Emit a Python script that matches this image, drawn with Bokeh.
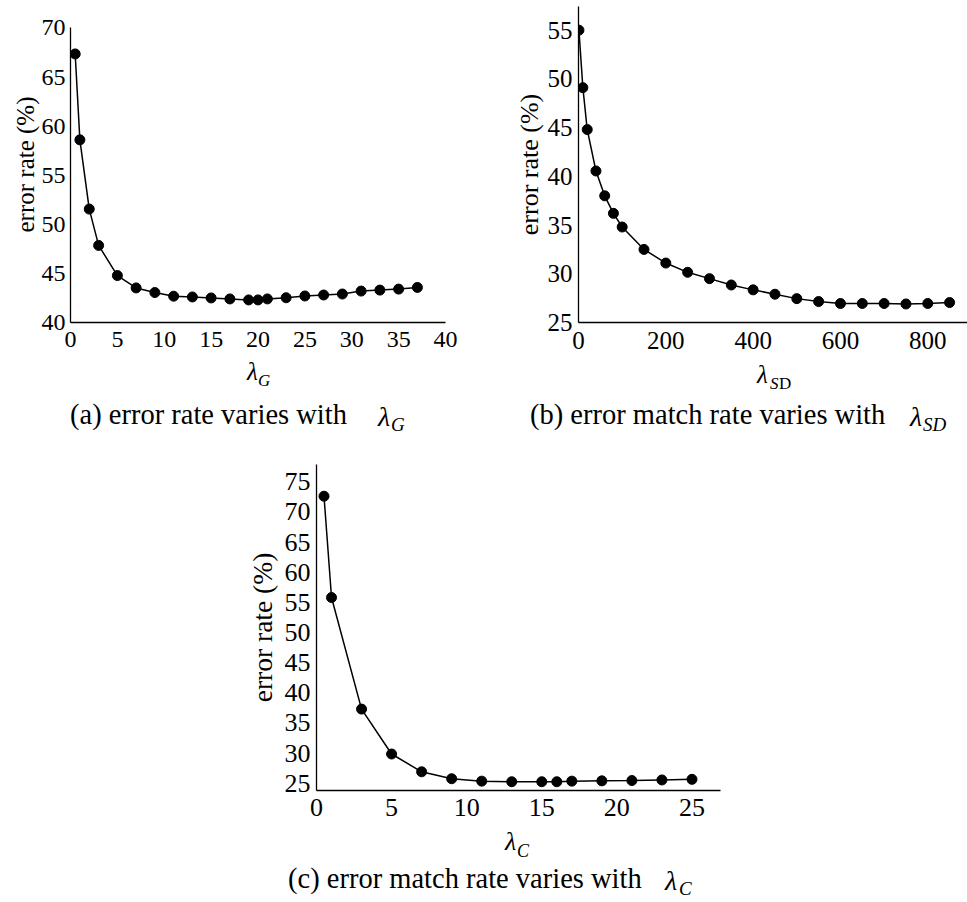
from bokeh.plotting import figure
from bokeh.models import FixedTicker, Spacer, Range1d, Div
from bokeh.layouts import row, column
from bokeh.embed import file_html
from bokeh.resources import INLINE

FONT = "Liberation Serif"

# ---- data ----
lam_g = [0.5, 1, 2, 3, 5, 7, 9, 11, 13, 15, 17, 19, 20, 21, 23, 25, 27, 29, 31, 33, 35, 37]
err_g = [67.35, 58.6, 51.55, 47.85, 44.78, 43.52, 43.05, 42.68, 42.6, 42.5, 42.4, 42.3,
         42.3, 42.4, 42.52, 42.7, 42.8, 42.9, 43.2, 43.3, 43.4, 43.57]

lam_sd = [1, 10, 20, 40, 60, 80, 100, 150, 200, 250, 300, 350, 400, 450, 500, 550, 600,
          650, 700, 750, 800, 850]
err_sd = [55.0, 49.1, 44.8, 40.55, 38.0, 36.2, 34.8, 32.5, 31.1, 30.15, 29.5, 28.85, 28.35,
          27.9, 27.45, 27.15, 26.95, 26.95, 26.95, 26.9, 26.95, 27.05]

lam_c = [0.5, 1, 3, 5, 7, 9, 11, 13, 15, 16, 17, 19, 21, 23, 25]
err_c = [72.6, 55.8, 37.3, 29.85, 26.9, 25.75, 25.35, 25.25, 25.25, 25.25, 25.35, 25.4,
         25.45, 25.55, 25.65]

xticks_g = [0, 5, 10, 15, 20, 25, 30, 35, 40]
yticks_g = [40, 45, 50, 55, 60, 65, 70]
xticks_sd = [0, 200, 400, 600, 800]
yticks_sd = [25, 30, 35, 40, 45, 50, 55]
xticks_c = [0, 5, 10, 15, 20, 25]
yticks_c = [25, 30, 35, 40, 45, 50, 55, 60, 65, 70, 75]

ylabel = "error rate (%)"


def make_panel(xs, ys, fw, fh, xr, yr, borders, xticks, yticks, tick_size, label_size,
               tick_standoff, label_standoff, x_standoff, ybounds=None):
    bl, bt, br, bb = borders
    p = figure(frame_width=fw, frame_height=fh,
               min_border_left=bl, min_border_top=bt, min_border_right=br, min_border_bottom=bb,
               x_range=Range1d(*xr), y_range=Range1d(*yr),
               output_backend="svg", toolbar_location=None, tools="")
    p.outline_line_color = None
    p.xgrid.visible = False
    p.ygrid.visible = False
    for ax in (p.xaxis[0], p.yaxis[0]):
        ax.axis_line_color = "black"
        ax.axis_line_width = 1.3
        ax.major_tick_line_color = None
        ax.minor_tick_line_color = None
        ax.major_tick_out = 0
        ax.major_tick_in = 0
        ax.minor_tick_out = 0
        ax.minor_tick_in = 0
        ax.major_label_text_font = FONT
        ax.major_label_text_font_size = f"{tick_size}px"
        ax.major_label_text_color = "black"
    p.xaxis.ticker = FixedTicker(ticks=xticks)
    p.yaxis.ticker = FixedTicker(ticks=yticks)
    p.xaxis.major_label_standoff = x_standoff
    p.yaxis.major_label_standoff = tick_standoff
    if ybounds is not None:
        p.yaxis.bounds = ybounds
    p.yaxis.axis_label = ylabel
    p.yaxis.axis_label_text_font = FONT
    p.yaxis.axis_label_text_font_style = "normal"
    p.yaxis.axis_label_text_font_size = f"{label_size}px"
    p.yaxis.axis_label_text_color = "black"
    p.yaxis.axis_label_standoff = label_standoff
    p.line(xs, ys, line_color="black", line_width=1.5)
    p.scatter(xs, ys, size=10, fill_color="black", line_color="black")
    return p


def span(x, baseline, text, size, italic=False):
    top = baseline - 0.8375 * size
    style = (f"position:absolute;left:{x}px;top:{top:.1f}px;font-size:{size}px;"
             f"line-height:1;white-space:nowrap;font-style:{'italic' if italic else 'normal'};"
             f"margin:0;padding:0")
    return f'<span style="{style}">{text}</span>'


def text_block(x0, y0, w, h, items):
    inner = "".join(span(x - x0, b - y0, t, s, it) for (x, b, t, s, it) in items)
    html = (f'<div style="position:relative;width:{w}px;height:{h}px;margin:0;padding:0;'
            f'font-family:\'{FONT}\';color:black;overflow:visible">{inner}</div>')
    return Div(text=html, width=w, height=h, margin=0)


# ---- panel (a): figure covers x 0..480, y 0..362 ----
pa = make_panel(lam_g, err_g, 375, 316, (0, 40), (40, 72.18), (70, 6, 35, 40),
                xticks_g, yticks_g, 24, 25, 5, 0, 9, ybounds=(40, 70))
div_a = text_block(0, 362, 480, 78, [
    (247, 380, "λ", 25, True),
    (258, 386, "G", 17, True),
    (70, 425, "(a) error rate varies with", 28.5, False),
    (378, 426, "λ", 28, True),
    (391, 431, "G", 19, True),
])

# ---- panel (b): figure covers x 480..967 ----
pb = make_panel(lam_sd, err_sd, 389, 316, (0, 891), (25, 57.43), (98, 6, 0, 40),
                xticks_sd, yticks_sd, 25, 26, 6, 1, 9)
div_b = text_block(480, 362, 487, 78, [
    (757, 383, "λ", 25, True),
    (770, 389, "S", 17, True),
    (779, 389, "D", 17, False),
    (530, 425, "(b) error match rate varies with", 28.5, False),
    (910, 426, "λ", 28, True),
    (923, 431, "SD", 19, True),
])

# ---- panel (c): figure covers x 200..750, y 440..830 ----
pc = make_panel(lam_c, err_c, 404, 326, (0, 26.9), (23.8, 77.86), (116, 24, 30, 40),
                xticks_c, yticks_c, 26, 27.5, 6, 4, 8)
div_c = text_block(200, 830, 550, 70, [
    (505, 851, "λ", 26, True),
    (517, 857, "C", 18, True),
    (288, 889, "(c) error match rate varies with", 28.5, False),
    (665, 890, "λ", 28, True),
    (679, 895, "C", 19, True),
])

layout = column(
    row(column(pa, div_a), column(pb, div_b)),
    row(Spacer(width=200, height=460), column(pc, div_c)),
)

open("out.html", "w").write(file_html(layout, INLINE))
